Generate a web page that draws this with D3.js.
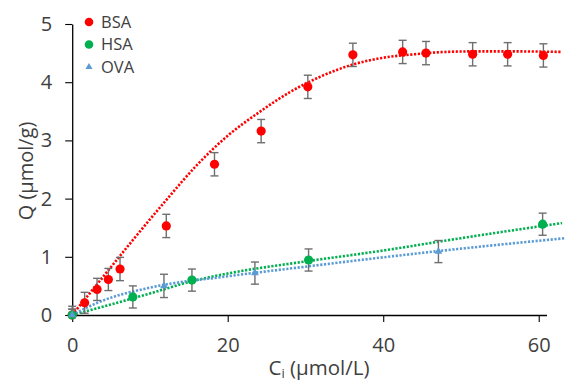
<!DOCTYPE html>
<html><head><meta charset="utf-8">
<script src="https://cdn.jsdelivr.net/npm/d3@7"></script>
<style>body{margin:0;background:#fff}svg{display:block;font-family:"Open Sans","Noto Sans",sans-serif}</style>
</head><body><svg id="c" width="566" height="383"></svg>
<script>
// ---- data ----
const bsaX = [0, 1.6, 3.2, 4.65, 6.15, 12.1, 18.3, 24.3, 30.3, 36.1, 42.5, 45.5, 51.5, 56.0, 60.6];
const bsaY = [0, 0.21, 0.44, 0.61, 0.79, 1.53, 2.59, 3.16, 3.92, 4.47, 4.52, 4.50, 4.48, 4.48, 4.46];
const bsaErr = [0.15, 0.18, 0.19, 0.19, 0.2, 0.2, 0.2, 0.2, 0.2, 0.2, 0.2, 0.2, 0.2, 0.2, 0.2];
const hsaX = [0, 7.8, 15.4, 30.4, 60.5];
const hsaY = [0, 0.31, 0.60, 0.945, 1.56];
const hsaErr = [0.1, 0.19, 0.19, 0.19, 0.19];
const ovaX = [0, 11.8, 23.5, 47.1];
const ovaY = [0, 0.50, 0.72, 1.09];
const ovaErr = [0.1, 0.2, 0.19, 0.19];
// trend lines
const bsaFitX = [0, 4, 8, 12, 16, 20, 24, 28, 32, 36, 40, 44, 48, 52, 56, 63];
const bsaFitY = [0, 0.66, 1.32, 1.96, 2.57, 3.08, 3.48, 3.83, 4.10, 4.30, 4.42, 4.48, 4.52, 4.53, 4.53, 4.52];
const hsaFitX = [0, 3.6, 10, 15.4, 20.3, 30, 39.6, 50, 63];
const hsaFitY = [0, 0.13, 0.37, 0.58, 0.72, 0.92, 1.10, 1.32, 1.58];
const ovaFitX = [0, 3.6, 10, 20.3, 30, 39.6, 50, 63.4];
const ovaFitY = [0, 0.23, 0.47, 0.67, 0.83, 0.985, 1.14, 1.32];
const xTicks = [0, 20, 40, 60];
const yTicks = [0, 1, 2, 3, 4, 5];
const seriesNames = ["BSA", "HSA", "OVA"];
const colors = ["#ff0000", "#00b050", "#5b9bd5"];

const svg = d3.select("#c");
const x = d3.scaleLinear().domain([0, 61]).range([72.2, 546.5]);
const y = d3.scaleLinear().domain([0, 5]).range([315, 24]);

// axes
const xa = svg.append("g").attr("transform", "translate(0,315)")
  .call(d3.axisBottom(x).tickValues(xTicks).tickFormat(d3.format("d")).tickSize(7).tickPadding(16).tickSizeOuter(0));
const ya = svg.append("g").attr("transform", "translate(72.2,0)")
  .call(d3.axisLeft(y).tickValues(yTicks).tickFormat(d3.format("d")).tickSize(7).tickPadding(13).tickSizeOuter(0));
[xa, ya].forEach(a => {
  a.select(".domain").attr("stroke", "#000").attr("stroke-width", 1.3);
  a.selectAll(".tick line").attr("stroke", "#000").attr("stroke-width", 1.1);
  a.selectAll(".tick text").attr("font-size", 20).attr("fill", "#404040")
    .attr("font-family", "'Open Sans','Noto Sans',sans-serif");
});

// trend lines
const line = d3.line().x(d => x(d[0])).y(d => y(d[1])).curve(d3.curveMonotoneX);
const fits = [[bsaFitX, bsaFitY], [hsaFitX, hsaFitY], [ovaFitX, ovaFitY]];
fits.forEach((f, i) => {
  svg.append("path").datum(f[0].map((v, k) => [v, f[1][k]]))
    .attr("d", line).attr("fill", "none").attr("stroke", colors[i])
    .attr("stroke-width", 2.6).attr("stroke-dasharray", "2.2 1.6");
});

// error bars and markers
const series = [[bsaX, bsaY, bsaErr], [hsaX, hsaY, hsaErr], [ovaX, ovaY, ovaErr]];
series.forEach((s, i) => {
  const pts = s[0].map((v, k) => ({x: v, y: s[1][k], e: s[2][k]}));
  const g = svg.append("g");
  pts.forEach(p => {
    const eg = g.append("g").attr("stroke", "#6f6f6f").attr("stroke-width", 1.4);
    eg.append("line").attr("x1", x(p.x)).attr("x2", x(p.x)).attr("y1", y(p.y + p.e)).attr("y2", y(Math.max(0, p.y - p.e)));
    eg.append("line").attr("x1", x(p.x) - 4).attr("x2", x(p.x) + 4).attr("y1", y(p.y + p.e)).attr("y2", y(p.y + p.e));
    if (p.y - p.e > 0)
      eg.append("line").attr("x1", x(p.x) - 4).attr("x2", x(p.x) + 4).attr("y1", y(p.y - p.e)).attr("y2", y(p.y - p.e));
  });
  if (i < 2) {
    g.selectAll("circle").data(pts).join("circle")
      .attr("cx", d => x(d.x)).attr("cy", d => y(d.y)).attr("r", 4.6).attr("fill", colors[i]);
  } else {
    g.selectAll("path.m").data(pts).join("path").attr("class", "m")
      .attr("d", d3.symbol(d3.symbolTriangle, 26))
      .attr("transform", d => `translate(${x(d.x)},${y(d.y)})`).attr("fill", colors[i]);
  }
});

// legend
const legY = [22, 44.5, 67];
seriesNames.forEach((n, i) => {
  if (i < 2) svg.append("circle").attr("cx", 89).attr("cy", legY[i]).attr("r", 4.3).attr("fill", colors[i]);
  else svg.append("path").attr("d", d3.symbol(d3.symbolTriangle, 22)).attr("transform", `translate(89,${legY[i]})`).attr("fill", colors[i]);
  svg.append("text").attr("x", 101).attr("y", legY[i]).attr("dy", "0.36em")
    .attr("font-size", 16.5).attr("fill", "#404040").text(n);
});

// axis titles
const xt = svg.append("text").attr("x", 319).attr("y", 375).attr("text-anchor", "middle")
  .attr("font-size", 20.5).attr("fill", "#404040");
xt.append("tspan").text("C");
xt.append("tspan").attr("font-size", 13).attr("dy", 3).text("i");
xt.append("tspan").attr("dy", -3).text(" (µmol/L)");
svg.append("text").attr("transform", "translate(33,171) rotate(-90)").attr("text-anchor", "middle")
  .attr("font-size", 20).attr("fill", "#404040").text("Q (µmol/g)");
</script></body></html>
